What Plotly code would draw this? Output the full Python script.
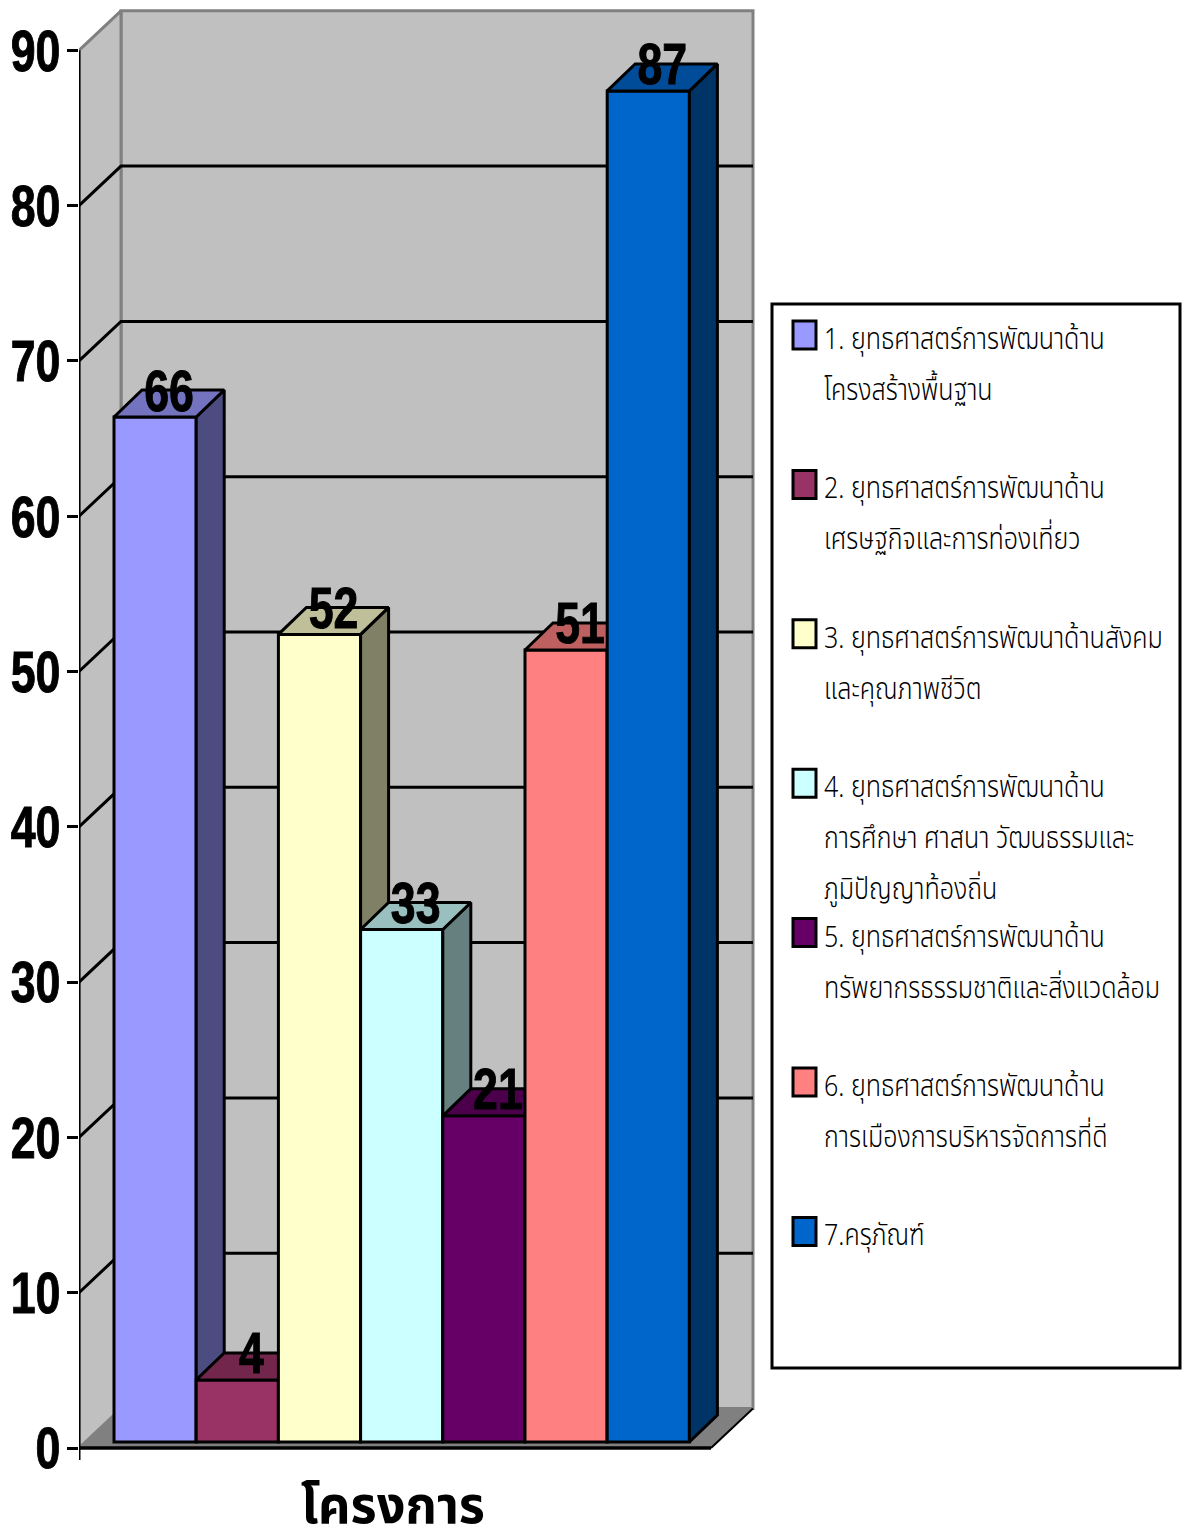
import plotly.graph_objects as go

# ---- data ----
categories = [
    ["1. ยุทธศาสตร์การพัฒนาด้าน", "โครงสร้างพื้นฐาน"],
    ["2. ยุทธศาสตร์การพัฒนาด้าน", "เศรษฐกิจและการท่องเที่ยว"],
    ["3. ยุทธศาสตร์การพัฒนาด้านสังคม", "และคุณภาพชีวิต"],
    ["4. ยุทธศาสตร์การพัฒนาด้าน", "การศึกษา ศาสนา วัฒนธรรมและ", "ภูมิปัญญาท้องถิ่น"],
    ["5. ยุทธศาสตร์การพัฒนาด้าน", "ทรัพยากรธรรมชาติและสิ่งแวดล้อม"],
    ["6. ยุทธศาสตร์การพัฒนาด้าน", "การเมืองการบริหารจัดการที่ดี"],
    ["7.ครุภัณฑ์"],
]
values = [66, 4, 52, 33, 21, 51, 87]
colors = ["#9999FF", "#993366", "#FFFFCC", "#CCFFFF", "#660066", "#FF8080", "#0066CC"]
y_ticks = [0, 10, 20, 30, 40, 50, 60, 70, 80, 90]
axis_title = "โครงการ"

# ---- page geometry ----
W, H = 1183, 1537
PX_PER_VAL = 15.53
PX_PER_CAT = 82.2
L_PX, R_PX, T_PX, B_PX = 79, 760, 5, 1460
ZERO_PX, FIRST_PX = 1448, 155.1
val = lambda n: n / PX_PER_VAL
cat = lambda n: n / PX_PER_CAT
XMIN = cat(L_PX - FIRST_PX)
XMAX = cat(R_PX - FIRST_PX)
YMIN = val(ZERO_PX - B_PX)
YMAX = val(ZERO_PX - T_PX)
FRONT_R = cat(711 - FIRST_PX)
WALL_DX, WALL_DY = cat(42), val(39.5)
BAR_DX, BAR_DY = cat(28), val(27)
BASE = val(6)
TOP = y_ticks[-1]
TEXT_FONT = "Liberation Sans Narrow, Arial Narrow, Liberation Sans, sans-serif"
THAI_FONT = "Noto Sans Thai, Noto Sans Thai Looped, Loma, Garuda, Noto Sans, DejaVu Sans, sans-serif"


def shade(hex_color, f):
    r, g, b = (int(hex_color[i:i + 2], 16) for i in (1, 3, 5))
    return f"rgb({r * f:.0f},{g * f:.0f},{b * f:.0f})"


def poly(xs, ys, fill, line, width, z):
    return go.Scatter(x=xs, y=ys, mode="lines", fill="toself", fillcolor=fill,
                      line=dict(color=line, width=width), hoverinfo="skip",
                      showlegend=False, cliponaxis=False, zorder=z)


fig = go.Figure()
BX0, BX1 = XMIN + WALL_DX, FRONT_R + WALL_DX
# walls and floor
fig.add_trace(poly([BX0, BX1, BX1, BX0, BX0], [WALL_DY, WALL_DY, TOP + WALL_DY, TOP + WALL_DY, WALL_DY],
                   "#C0C0C0", "#808080", 3, 0))
fig.add_trace(poly([XMIN, BX0, BX0, XMIN, XMIN], [0, WALL_DY, TOP + WALL_DY, TOP, 0],
                   "#C0C0C0", "#808080", 3, 0))
fig.add_trace(poly([XMIN, FRONT_R, BX1, BX0, XMIN], [0, 0, WALL_DY, WALL_DY, 0],
                   "#808080", "#808080", 1, 0))
# gridlines
for v in y_ticks[1:-1]:
    fig.add_trace(go.Scatter(x=[XMIN, BX0, BX1], y=[v, v + WALL_DY, v + WALL_DY], mode="lines",
                             line=dict(color="black", width=3), hoverinfo="skip",
                             showlegend=False, cliponaxis=False, zorder=0))
# axis lines
fig.add_trace(go.Scatter(x=[XMIN, XMIN], y=[YMIN, TOP], mode="lines", line=dict(color="black", width=3),
                         hoverinfo="skip", showlegend=False, cliponaxis=False, zorder=0))
fig.add_trace(go.Scatter(x=[XMIN, FRONT_R], y=[0, 0], mode="lines",
                         line=dict(color="black", width=3.5), hoverinfo="skip",
                         showlegend=False, cliponaxis=False, zorder=0))
fig.add_trace(go.Scatter(x=[FRONT_R, BX1], y=[0, WALL_DY], mode="lines",
                         line=dict(color="black", width=2), hoverinfo="skip",
                         showlegend=False, cliponaxis=False, zorder=0))

# bars: left to right, each one covering the one before
for i, (v, c) in enumerate(zip(values, colors)):
    z = i + 1
    top = BASE + v
    xl, xr = i - 0.5, i + 0.5
    fig.add_trace(poly([xr, xr + BAR_DX, xr + BAR_DX, xr, xr],
                       [BASE, BASE + BAR_DY, top + BAR_DY, top, BASE], shade(c, 0.5), "black", 3, z))
    fig.add_trace(poly([xl, xr, xr + BAR_DX, xl + BAR_DX, xl],
                       [top, top, top + BAR_DY, top + BAR_DY, top], shade(c, 0.75), "black", 3, z))
    fig.add_trace(go.Bar(x=[i], y=[v], base=BASE, width=1, marker=dict(color=c, line=dict(color="black", width=3)),
                         showlegend=False, cliponaxis=False, zorder=z, hovertemplate="%{y}<extra></extra>"))

# value labels
fig.add_trace(go.Scatter(x=[i + BAR_DX / 2 for i in range(len(values))],
                         y=[v + BAR_DY for v in values],
                         text=[str(v) for v in values], mode="text", textposition="middle center",
                         textfont=dict(family=TEXT_FONT, size=58, color="black", weight="bold"),
                         showlegend=False, cliponaxis=False, zorder=20, hoverinfo="skip"))


def px_x(p):
    return (p - L_PX) / (R_PX - L_PX)


def px_y(p):
    return (B_PX - p) / (B_PX - T_PX)


shapes = [dict(type="rect", xref="paper", yref="paper", x0=px_x(772), x1=px_x(1180), y0=px_y(304), y1=px_y(1368),
               fillcolor="white", line=dict(color="black", width=3), layer="above")]
annotations = []
ITEM_STEP = 149.4
LINE_STEP = 51
for i, (lines, c) in enumerate(zip(categories, colors)):
    sy = 321 + ITEM_STEP * i
    shapes.append(dict(type="rect", xref="paper", yref="paper", x0=px_x(793), x1=px_x(816), y0=px_y(sy), y1=px_y(sy + 28),
                       fillcolor=c, line=dict(color="black", width=3), layer="above"))
    for j, t in enumerate(lines):
        annotations.append(dict(xref="paper", yref="paper", x=px_x(822), y=px_y(340 + ITEM_STEP * i + LINE_STEP * j),
                                text=t, showarrow=False, xanchor="left", yanchor="middle",
                                font=dict(family=THAI_FONT, size=30, color="black", weight=300)))
annotations.append(dict(xref="paper", yref="paper", x=px_x(393), y=px_y(1507), text=axis_title, showarrow=False,
                        xanchor="center", yanchor="middle",
                        font=dict(family=THAI_FONT, size=52, color="black", weight="bold")))

fig.update_layout(
    width=W, height=H, autosize=False, paper_bgcolor="white", plot_bgcolor="rgba(0,0,0,0)",
    margin=dict(l=L_PX, r=W - R_PX, t=T_PX, b=H - B_PX, pad=0, autoexpand=False),
    showlegend=False, barmode="overlay", shapes=shapes, annotations=annotations,
    xaxis=dict(range=[XMIN, XMAX], showgrid=False, zeroline=False, showticklabels=False, ticks="", showline=False),
    yaxis=dict(range=[YMIN, YMAX], tickmode="array", tickvals=y_ticks, ticktext=[str(t) for t in y_ticks],
               showgrid=False, zeroline=False, showline=False, ticks="outside", ticklen=11, tickwidth=3,
               ticklabelstandoff=-5, automargin=False,
               tickcolor="black", tickfont=dict(family=TEXT_FONT, size=58, color="black", weight="bold")),
)

# No narrow fonts are installed: squeeze the real text horizontally once it is drawn.
post = """
document.body.style.margin = '0';
(function () {
  var gd = document.getElementById('{plot_id}');
  function squeeze(sel, f, anchor, stroke) {
    gd.querySelectorAll(sel).forEach(function (t) {
      var b = t.getBBox();
      var c = anchor === 'r' ? b.x + b.width : anchor === 'l' ? b.x : b.x + b.width / 2;
      var old = t.getAttribute('transform') || '';
      t.setAttribute('transform', old + ' translate(' + c + ',0) scale(' + f + ',1) translate(' + (-c) + ',0)');
      if (stroke) { t.style.stroke = 'black'; t.style.strokeWidth = stroke + 'px'; }
    });
  }
  squeeze('.ytick text', 0.77, 'r', 1);
  squeeze('.textpoint text', 0.77, 'c', 1);
  var notes = gd.querySelectorAll('.annotation-text');
  notes.forEach(function (t, i) {
    var last = i === notes.length - 1;
    var b = t.getBBox();
    var c = last ? b.x + b.width / 2 : b.x;
    var f = last ? 0.97 : 0.835;
    var old = t.getAttribute('transform') || '';
    t.setAttribute('transform', old + ' translate(' + c + ',0) scale(' + f + ',1) translate(' + (-c) + ',0)');
  });
})();
"""
fig.write_html("out.html", post_script=post, config={"displayModeBar": False})
